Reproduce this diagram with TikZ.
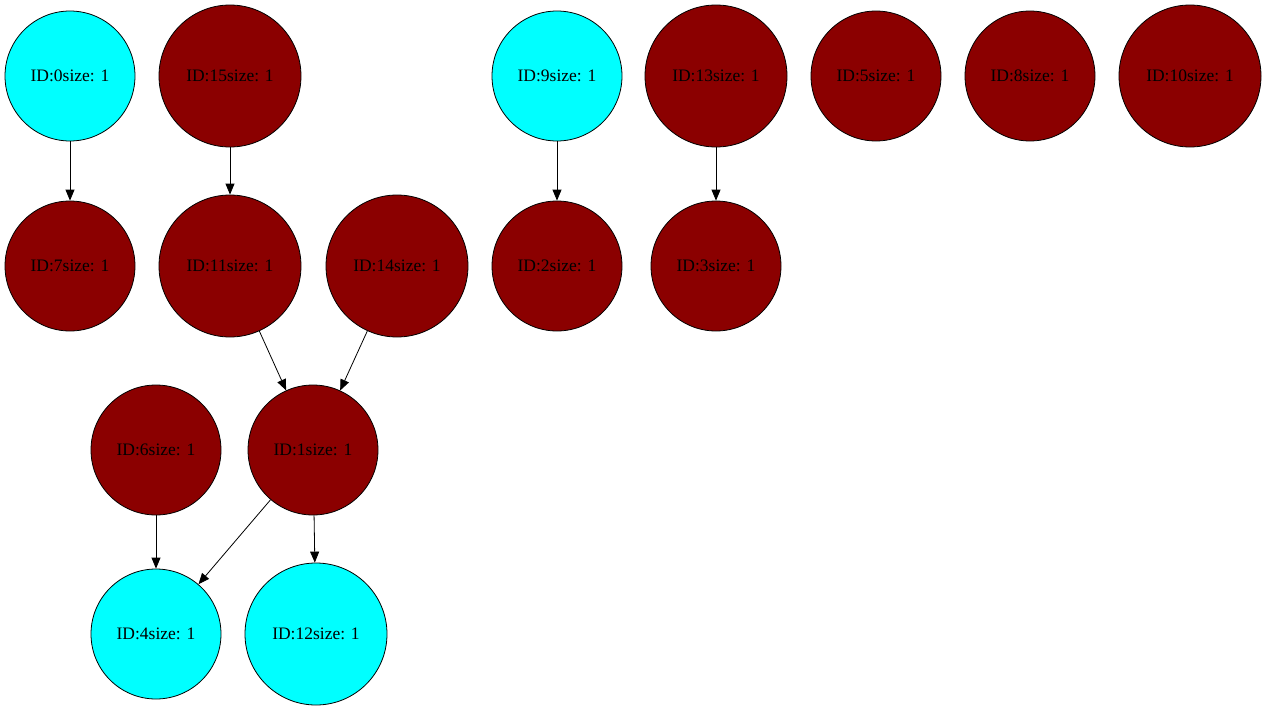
\documentclass[tikz,border=0pt]{standalone}
\usepackage{fontspec}
\setmainfont{Liberation Serif}
\usetikzlibrary{arrows.meta}
\definecolor{nred}{HTML}{8B0000}
\definecolor{ncyan}{HTML}{00FFFF}
\tikzset{
  base/.style={circle, draw=black, line width=0.8pt, inner sep=0pt, font=\fontsize{17.5}{20}\selectfont},
  sm/.style={base, minimum size=130pt},
  lg/.style={base, minimum size=142pt},
  red/.style={fill=nred},
  cy/.style={fill=ncyan},
  edge/.style={draw=black, line width=0.8pt, -{Triangle[length=11pt,width=9pt]}}
}
\begin{document}
\begin{tikzpicture}[x=1pt,y=-1pt]
\useasboundingbox (0,0) rectangle (1267,712);
\node[sm,cy] (n0) at (70,76) {ID:0size: 1};
\node[lg,red] (n15) at (230,76) {ID:15size: 1};
\node[sm,cy] (n9) at (557,76) {ID:9size: 1};
\node[lg,red] (n13) at (716,76) {ID:13size: 1};
\node[sm,red] (n5) at (876,76) {ID:5size: 1};
\node[sm,red] (n8) at (1030,76) {ID:8size: 1};
\node[lg,red] (n10) at (1190,76) {ID:10size: 1};
\node[sm,red] (n7) at (70,266) {ID:7size: 1};
\node[lg,red] (n11) at (230,266) {ID:11size: 1};
\node[lg,red] (n14) at (397,266) {ID:14size: 1};
\node[sm,red] (n2) at (557,266) {ID:2size: 1};
\node[sm,red] (n3) at (716,266) {ID:3size: 1};
\node[sm,red] (n6) at (156,450) {ID:6size: 1};
\node[sm,red] (n1) at (313,450) {ID:1size: 1};
\node[sm,cy] (n4) at (156,634) {ID:4size: 1};
\node[lg,cy] (n12) at (316,634) {ID:12size: 1};
\draw[edge] (n0) -- (n7);
\draw[edge] (n15) -- (n11);
\draw[edge] (n9) -- (n2);
\draw[edge] (n13) -- (n3);
\draw[edge] (n11) -- (n1);
\draw[edge] (n14) -- (n1);
\draw[edge] (n6) -- (n4);
\draw[edge] (n1) -- (n4);
\draw[edge] (n1) -- (n12);
\end{tikzpicture}
\end{document}
